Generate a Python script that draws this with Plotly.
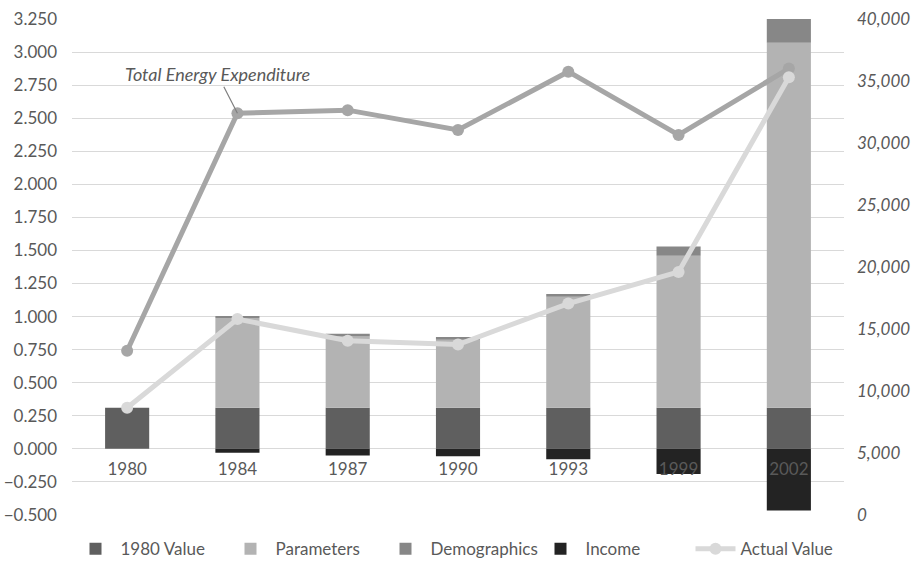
import plotly.graph_objects as go

years = ["1980", "1984", "1987", "1990", "1993", "1999", "2002"]

# Decomposition components (left axis)
value_1980 = [0.31, 0.31, 0.31, 0.31, 0.31, 0.31, 0.31]
parameters = [0.0, 0.68, 0.54, 0.515, 0.84, 1.15, 2.76]
demographics = [0.0, 0.015, 0.02, 0.02, 0.02, 0.07, 0.18]
income = [0.0, -0.03, -0.05, -0.055, -0.078, -0.19, -0.466]

# Levels (right axis)
total_energy_expenditure = [13250, 32400, 32650, 31050, 35750, 30650, 36000]
actual_value = [8650, 15800, 14050, 13750, 17050, 19600, 35300]

FONT = "Lato"
TEXT = "#595959"

fig = go.Figure()

bar_specs = [
    ("1980 Value", value_1980, "#5f5f5f"),
    ("Parameters", parameters, "#b3b3b3"),
    ("Demographics", demographics, "#878787"),
    ("Income", income, "#232323"),
]
for name, vals, color in bar_specs:
    fig.add_trace(go.Bar(
        x=years, y=vals, name=name, marker=dict(color=color, line=dict(width=0)),
        yaxis="y",
    ))

fig.add_trace(go.Scatter(
    x=years, y=total_energy_expenditure, name="Total Energy Expenditure",
    mode="lines+markers", yaxis="y2", showlegend=False,
    line=dict(color="#a6a6a6", width=5), marker=dict(color="#a6a6a6", size=12),
))
fig.add_trace(go.Scatter(
    x=years, y=actual_value, name="Actual Value",
    mode="lines+markers", yaxis="y2",
    line=dict(color="#d9d9d9", width=5), marker=dict(color="#d9d9d9", size=12),
))

# Callout naming the unlabeled line, attached to its 1984 point
label_idx = years.index("1984")
fig.add_annotation(
    x=label_idx, y=total_energy_expenditure[label_idx], xref="x", yref="y2",
    text="<i>Total Energy Expenditure</i>", showarrow=True, arrowhead=0,
    arrowcolor="#7f7f7f", arrowwidth=1.2, ax=-20, ay=-39,
    font=dict(family=FONT, size=18, color=TEXT),
)

fig.update_layout(
    width=916, height=561,
    margin=dict(l=72, r=72, t=19, b=46, autoexpand=False),
    paper_bgcolor="white", plot_bgcolor="white",
    barmode="relative", bargap=0.6,
    font=dict(family=FONT, size=16, color=TEXT),
    showlegend=True,
    legend=dict(
        orientation="h", x=0.5, xanchor="center", y=-0.069, yanchor="middle",
        font=dict(family=FONT, size=17, color=TEXT), traceorder="normal",
        itemwidth=40, entrywidth=100,
    ),
    xaxis=dict(
        type="category", categoryorder="array", categoryarray=years,
        range=[-0.5, 6.5], anchor="free", position=0.5 / 3.75,
        showline=False, ticks="", showgrid=False, zeroline=False,
        tickfont=dict(family=FONT, size=17, color=TEXT),
        ticklabelstandoff=8,
    ),
    yaxis=dict(
        range=[-0.5, 3.25], dtick=0.25, tickformat=".3f",
        showgrid=True, gridcolor="#d9d9d9", gridwidth=1.3,
        zeroline=False, showline=False, ticks="",
        tickfont=dict(family=FONT, size=17, color=TEXT),
        ticklabelstandoff=14,
    ),
    yaxis2=dict(
        range=[0, 40000], dtick=5000, tickformat=",", overlaying="y", side="right",
        showgrid=False, zeroline=False, showline=False, ticks="",
        tickfont=dict(family=FONT, size=17, color=TEXT, style="italic"),
        ticklabelstandoff=12,
    ),
)

fig.write_html("out.html")
